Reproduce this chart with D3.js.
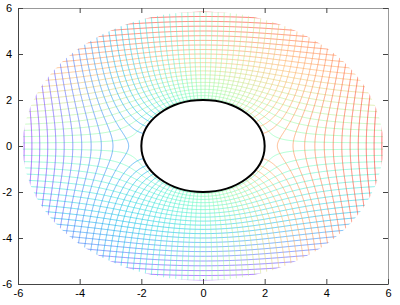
<html>
<head>
<script src="https://d3js.org/d3.v7.min.js"></script>
<style>
body { margin: 0; background: #fff; }
svg { font-family: 'Liberation Sans', Arial, sans-serif; }
</style>
</head>
<body>
<div id="plot"></div>
<script>

var width = 400;
var height = 305;

// cylinder of radius 2 in a uniform flow, mesh cut off at the outer circle
var cylinderRadius = 2;
var outerRadius = 5.85;

// equipotential levels (the near-vertical lines)
var phiLevels = [-6.49, -6.27, -6.05, -5.83, -5.61, -5.39, -5.17, -4.95, -4.73, -4.51,
	-4.29, -4.07, -3.85, -3.63, -3.41, -3.19, -2.97, -2.75, -2.53, -2.31,
	-2.09, -1.87, -1.65, -1.43, -1.21, -0.99, -0.77, -0.55, -0.33, -0.11,
	0.11, 0.33, 0.55, 0.77, 0.99, 1.21, 1.43, 1.65, 1.87, 2.09,
	2.31, 2.53, 2.75, 2.97, 3.19, 3.41, 3.63, 3.85, 4.07, 4.29,
	4.51, 4.73, 4.95, 5.17, 5.39, 5.61, 5.83, 6.05, 6.27, 6.49];

// streamline levels (the near-horizontal lines)
var psiLevels = [-5.16, -4.92, -4.68, -4.44, -4.20, -3.96, -3.72, -3.48, -3.24, -3.00, -2.76,
	-2.52, -2.28, -2.04, -1.80, -1.56, -1.32, -1.08, -0.84, -0.60, -0.36, -0.12,
	0.12, 0.36, 0.60, 0.84, 1.08, 1.32, 1.56, 1.80, 2.04, 2.28, 2.52,
	2.76, 3.00, 3.24, 3.48, 3.72, 3.96, 4.20, 4.44, 4.68, 4.92, 5.16];

var xTicks = [-6, -4, -2, 0, 2, 4, 6];
var yTicks = [-6, -4, -2, 0, 2, 4, 6];

var xScale = d3.scaleLinear().domain([-6, 6]).range([18, 388]);
var yScale = d3.scaleLinear().domain([-6, 6]).range([284, 8]);

// gnuplot rgbformulae 33,13,10
function rainbow(t) {
	t = Math.max(0, Math.min(1, t));
	var r = Math.abs(2 * t - 0.5), g = Math.sin(Math.PI * t), b = Math.cos(Math.PI * t / 2);
	return d3.rgb(255 * Math.min(1, r), 255 * g, 255 * b).toString();
}
var phiColor = d3.scaleLinear().domain([-6.6, 6.6]).range([0, 1]);
var psiColor = d3.scaleLinear().domain([-5.3, 5.3]).range([0, 1]);

var svg = d3.select("#plot").append("svg").attr("width", width).attr("height", height);

// sample the flow on a grid
var n = 521, lo = -6.5, hi = 6.5, step = (hi - lo) / (n - 1);
var phiGrid = new Float64Array(n * n);
var psiGrid = new Float64Array(n * n);
var a2 = cylinderRadius * cylinderRadius;
for (var j = 0; j < n; j++) {
	var y = lo + j * step;
	for (var i = 0; i < n; i++) {
		var x = lo + i * step;
		var r2 = x * x + y * y;
		if (r2 < a2) {
			var k = r2 > 0 ? cylinderRadius / Math.sqrt(r2) : 1;
			phiGrid[j * n + i] = 2 * x * k;
			psiGrid[j * n + i] = 0;
		} else {
			phiGrid[j * n + i] = x * (1 + a2 / r2);
			psiGrid[j * n + i] = y * (1 - a2 / r2);
		}
	}
}

var gridPath = d3.geoPath(d3.geoTransform({
	point: function(gx, gy) {
		this.stream.point(xScale(lo + (gx - 0.5) * step), yScale(lo + (gy - 0.5) * step));
	}
}));

svg.append("defs").append("clipPath").attr("id", "outer")
.append("ellipse")
.attr("cx", xScale(0)).attr("cy", yScale(0))
.attr("rx", xScale(outerRadius) - xScale(0))
.attr("ry", yScale(0) - yScale(outerRadius));

var mesh = svg.append("g").attr("clip-path", "url(#outer)");

var psiContours = d3.contours().size([n, n]).thresholds(psiLevels)(psiGrid);
mesh.selectAll(".psi").data(psiContours)
.enter().append("path")
.attr("class", "psi")
.attr("d", gridPath)
.style("fill", "none")
.style("stroke", function(d) { return rainbow(psiColor(d.value)); })
.style("stroke-width", 0.6);

var phiContours = d3.contours().size([n, n]).thresholds(phiLevels)(phiGrid);
mesh.selectAll(".phi").data(phiContours)
.enter().append("path")
.attr("class", "phi")
.attr("d", gridPath)
.style("fill", "none")
.style("stroke", function(d) { return rainbow(phiColor(d.value)); })
.style("stroke-width", 0.6);

// the cylinder
svg.append("ellipse")
.attr("cx", xScale(0)).attr("cy", yScale(0))
.attr("rx", xScale(cylinderRadius) - xScale(0))
.attr("ry", yScale(0) - yScale(cylinderRadius))
.style("fill", "white")
.style("stroke", "black")
.style("stroke-width", 2);

// axes, ticks pointing inward like gnuplot
function styleAxis(g, color) {
	g.selectAll(".domain").attr("stroke", color);
	g.selectAll(".tick line").attr("stroke", "#444");
	g.selectAll("text").style("font-size", "11px").attr("fill", "#000")
	.text(function(d) { return d < 0 ? "-" + Math.abs(d) : d; });
}

svg.append("g").attr("transform", "translate(0," + yScale(6) + ")")
.call(d3.axisTop(xScale).tickValues(xTicks).tickSizeInner(-5).tickSizeOuter(0))
.call(styleAxis, "#999")
.selectAll("text").remove();
svg.append("g").attr("transform", "translate(" + xScale(6) + ",0)")
.call(d3.axisRight(yScale).tickValues(yTicks).tickSizeInner(-5).tickSizeOuter(0))
.call(styleAxis, "#999")
.selectAll("text").remove();
svg.append("g").attr("transform", "translate(0," + yScale(-6) + ")")
.call(d3.axisBottom(xScale).tickValues(xTicks).tickSizeInner(-5).tickSizeOuter(0).tickPadding(5))
.call(styleAxis, "#444");
svg.append("g").attr("transform", "translate(" + xScale(-6) + ",0)")
.call(d3.axisLeft(yScale).tickValues(yTicks).tickSizeInner(-5).tickSizeOuter(0).tickPadding(6))
.call(styleAxis, "#444");

</script>
</body>
</html>
